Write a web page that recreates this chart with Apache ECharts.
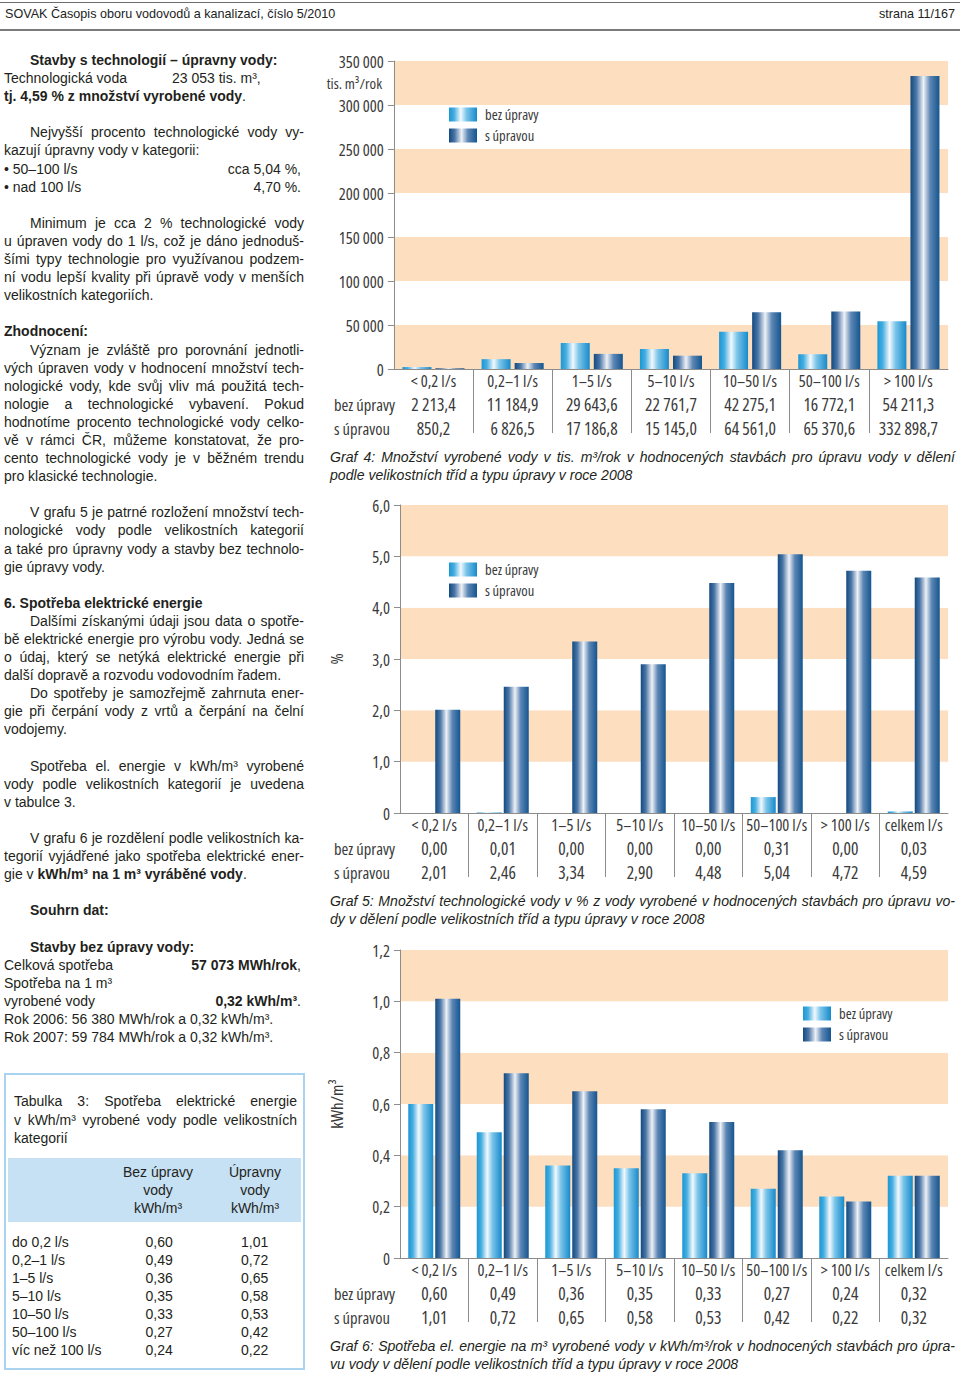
<!DOCTYPE html>
<html lang="cs">
<head>
<meta charset="utf-8">
<title>SOVAK 5/2010 – strana 11</title>
<script src="https://cdn.jsdelivr.net/npm/echarts@6/dist/echarts.min.js"></script>
<style>
  html, body { margin:0; padding:0; background:#fff; }
  body { width:960px; height:1377px; position:relative; overflow:hidden;
         font-family:"Liberation Sans", Arial, Helvetica, sans-serif; color:#231f20; }
  #hdr { position:absolute; left:0; top:0; width:960px; height:31px; }
  #hdr .t1 { position:absolute; left:0; top:2px; width:960px; border-top:1px solid #6d6d6d; }
  #hdr .t2 { position:absolute; left:0; top:29px; width:960px; border-top:2px solid #7a7a7a; }
  #hdr .l { position:absolute; left:5px; top:6px; font-size:12.6px; line-height:16px; color:#222; }
  #hdr .r { position:absolute; right:5px; top:6px; font-size:12.6px; line-height:16px; color:#222; }
  #left { position:absolute; left:4px; top:51px; width:300px; font-size:14px; }
  #left .ln { height:18.1px; line-height:18.1px; white-space:nowrap; }
  #left .j { text-align:justify; text-align-last:justify; }
  #left .in { padding-left:26px; }
  #left .sp { display:flex; justify-content:space-between; padding-right:3px; }
  #left .ab { position:relative; }
  #left .ab span.v { position:absolute; left:168px; }
  b { font-weight:bold; }
  #tab { position:absolute; left:4px; top:1073px; width:297px; height:293px; border:2px solid #a9d3ee; }
  #tab .cap { position:absolute; left:8px; top:17px; width:283px; font-size:14px; }
  #tab .cap div { height:18.5px; line-height:18.5px; white-space:nowrap; }
  #tab .cap .j { text-align:justify; text-align-last:justify; }
  #tab .band { position:absolute; left:2px; top:83px; width:293px; height:64px; background:#c6e0f4; }
  #tab .hc { position:absolute; top:88px; width:110px; font-size:14px; text-align:center; line-height:18px; }
  #tab table { position:absolute; left:6px; top:158px; border-collapse:collapse; font-size:14px; }
  #tab td { padding:0; height:18px; line-height:18px; white-space:nowrap; }
  .gcap { position:absolute; left:330px; width:625px; font-size:14.1px; font-style:italic; color:#231f20; }
  .gcap div { height:18px; line-height:18px; white-space:nowrap; }
  .gcap .j { text-align:justify; text-align-last:justify; }
  #chart { position:absolute; left:320px; top:40px; width:640px; height:1337px; }
</style>
</head>
<body>
<div id="hdr">
  <div class="t1"></div>
  <div class="l">SOVAK Časopis oboru vodovodů a kanalizací, číslo 5/2010</div>
  <div class="r">strana 11/167</div>
  <div class="t2"></div>
</div>

<div id="left">
  <div class="ln in"><b>Stavby s technologií – úpravny vody:</b></div>
  <div class="ln ab">Technologická voda<span class="v">23 053 tis. m³,</span></div>
  <div class="ln"><b>tj. 4,59 % z množství vyrobené vody</b>.</div>
  <div class="ln"></div>
  <div class="ln j in">Nejvyšší procento technologické vody vy-</div>
  <div class="ln">kazují úpravny vody v kategorii:</div>
  <div class="ln sp"><span>• 50–100 l/s</span><span>cca 5,04 %,</span></div>
  <div class="ln sp"><span>• nad 100 l/s</span><span>4,70 %.</span></div>
  <div class="ln"></div>
  <div class="ln j in">Minimum je cca 2 % technologické vody</div>
  <div class="ln j">u úpraven vody do 1 l/s, což je dáno jednoduš-</div>
  <div class="ln j">šími typy technologie pro využívanou podzem-</div>
  <div class="ln j">ní vodu lepší kvality při úpravě vody v menších</div>
  <div class="ln">velikostních kategoriích.</div>
  <div class="ln"></div>
  <div class="ln"><b>Zhodnocení:</b></div>
  <div class="ln j in">Význam je zvláště pro porovnání jednotli-</div>
  <div class="ln j">vých úpraven vody v hodnocení množství tech-</div>
  <div class="ln j">nologické vody, kde svůj vliv má použitá tech-</div>
  <div class="ln j">nologie a technologické vybavení. Pokud</div>
  <div class="ln j">hodnotíme procento technologické vody celko-</div>
  <div class="ln j">vě v rámci ČR, můžeme konstatovat, že pro-</div>
  <div class="ln j">cento technologické vody je v běžném trendu</div>
  <div class="ln">pro klasické technologie.</div>
  <div class="ln"></div>
  <div class="ln j in">V grafu 5 je patrné rozložení množství tech-</div>
  <div class="ln j">nologické vody podle velikostních kategorií</div>
  <div class="ln j">a také pro úpravny vody a stavby bez technolo-</div>
  <div class="ln">gie úpravy vody.</div>
  <div class="ln"></div>
  <div class="ln"><b>6. Spotřeba elektrické energie</b></div>
  <div class="ln j in">Dalšími získanými údaji jsou data o spotře-</div>
  <div class="ln j">bě elektrické energie pro výrobu vody. Jedná se</div>
  <div class="ln j">o údaj, který se netýká elektrické energie při</div>
  <div class="ln">další dopravě a rozvodu vodovodním řadem.</div>
  <div class="ln j in">Do spotřeby je samozřejmě zahrnuta ener-</div>
  <div class="ln j">gie při čerpání vody z vrtů a čerpání na čelní</div>
  <div class="ln">vodojemy.</div>
  <div class="ln"></div>
  <div class="ln j in">Spotřeba el. energie v kWh/m³ vyrobené</div>
  <div class="ln j">vody podle velikostních kategorií je uvedena</div>
  <div class="ln">v tabulce 3.</div>
  <div class="ln"></div>
  <div class="ln j in">V grafu 6 je rozdělení podle velikostních ka-</div>
  <div class="ln j">tegorií vyjádřené jako spotřeba elektrické ener-</div>
  <div class="ln">gie v <b>kWh/m³ na 1 m³ vyráběné vody</b>.</div>
  <div class="ln"></div>
  <div class="ln in"><b>Souhrn dat:</b></div>
  <div class="ln"></div>
  <div class="ln in"><b>Stavby bez úpravy vody:</b></div>
  <div class="ln sp"><span>Celková spotřeba</span><span><b>57 073 MWh/rok</b>,</span></div>
  <div class="ln">Spotřeba na 1 m³</div>
  <div class="ln sp"><span>vyrobené vody</span><span><b>0,32 kWh/m³</b>.</span></div>
  <div class="ln">Rok 2006: 56 380 MWh/rok a 0,32 kWh/m³.</div>
  <div class="ln">Rok 2007: 59 784 MWh/rok a 0,32 kWh/m³.</div>
</div>

<div id="tab">
  <div class="cap">
    <div class="j">Tabulka 3: Spotřeba elektrické energie</div>
    <div class="j">v kWh/m³ vyrobené vody podle velikostních</div>
    <div>kategorií</div>
  </div>
  <div class="band"></div>
  <div class="hc" style="left:97px">Bez úpravy<br>vody<br>kWh/m³</div>
  <div class="hc" style="left:194px">Úpravny<br>vody<br>kWh/m³</div>
  <table id="t3"></table>
</div>

<div class="gcap" style="top:448px">
  <div class="j">Graf 4: Množství vyrobené vody v tis. m³/rok v hodnocených stavbách pro úpravu vody v dělení</div>
  <div>podle velikostních tříd a typu úpravy v roce 2008</div>
</div>
<div class="gcap" style="top:892px">
  <div class="j">Graf 5: Množství technologické vody v % z vody vyrobené v hodnocených stavbách pro úpravu vo-</div>
  <div>dy v dělení podle velikostních tříd a typu úpravy v roce 2008</div>
</div>
<div class="gcap" style="top:1337px">
  <div class="j">Graf 6: Spotřeba el. energie na m³ vyrobené vody v kWh/m³/rok v hodnocených stavbách pro úpra-</div>
  <div>vu vody v dělení podle velikostních tříd a typu úpravy v roce 2008</div>
</div>

<div id="chart"></div>

<script>
// ---------------- DATA ----------------
const SERIES_NAMES = ['bez úpravy', 's úpravou'];
const CATS_G4 = ['< 0,2 l/s', '0,2–1 l/s', '1–5 l/s', '5–10 l/s', '10–50 l/s', '50–100 l/s', '> 100 l/s'];
const CATS_G56 = ['< 0,2 l/s', '0,2–1 l/s', '1–5 l/s', '5–10 l/s', '10–50 l/s', '50–100 l/s', '> 100 l/s', 'celkem l/s'];

// Graf 4 – tis. m3/rok
const G4_BEZ = [2213.4, 11184.9, 29643.6, 22761.7, 42275.1, 16772.1, 54211.3];
const G4_S   = [850.2, 6826.5, 17186.8, 15145.0, 64561.0, 65370.6, 332898.7];
// Graf 5 – %
const G5_BEZ = [0.00, 0.01, 0.00, 0.00, 0.00, 0.31, 0.00, 0.03];
const G5_S   = [2.01, 2.46, 3.34, 2.90, 4.48, 5.04, 4.72, 4.59];
// Graf 6 – kWh/m3
const G6_BEZ = [0.60, 0.49, 0.36, 0.35, 0.33, 0.27, 0.24, 0.32];
const G6_S   = [1.01, 0.72, 0.65, 0.58, 0.53, 0.42, 0.22, 0.32];

// Tabulka 3
const T3_LABELS = ['do 0,2 l/s', '0,2–1 l/s', '1–5 l/s', '5–10 l/s', '10–50 l/s', '50–100 l/s', 'víc než 100 l/s'];
const T3_BEZ = [0.60, 0.49, 0.36, 0.35, 0.33, 0.27, 0.24];
const T3_UPR = [1.01, 0.72, 0.65, 0.58, 0.53, 0.42, 0.22];

// ---------------- helpers ----------------
function fmtCz(v, dec) {
  const s = Number(v).toFixed(dec);
  const parts = s.split('.');
  const ip = parts[0].replace(/\B(?=(\d{3})+(?!\d))/g, ' ');
  return parts.length > 1 ? ip + ',' + parts[1] : ip;
}
function measure(str, px, fam, stretch) {
  const s = document.createElement('span');
  s.style.cssText = 'position:absolute;left:0;top:0;visibility:hidden;white-space:nowrap;' +
    'font-size:' + px + 'px;font-family:' + fam + ';font-stretch:' + stretch + ';';
  s.textContent = str;
  document.body.appendChild(s);
  const w = s.getBoundingClientRect().width;
  s.remove();
  return w;
}

// table 3
(function () {
  const t = document.getElementById('t3');
  let html = '';
  for (let i = 0; i < T3_LABELS.length; i++) {
    html += '<tr><td style="width:100px">' + T3_LABELS[i] + '</td>' +
            '<td style="width:96px;text-align:center">' + fmtCz(T3_BEZ[i], 2) + '</td>' +
            '<td style="width:98px;text-align:center">' + fmtCz(T3_UPR[i], 2) + '</td></tr>';
  }
  t.innerHTML = html;
})();

// ---------------- condensed chart font ----------------
const PROBE = 'bez úpravy 332 898,7';
const STRETCH_OK = measure(PROBE, 100, '"Open Sans"', '75%') < 0.92 * measure(PROBE, 100, '"Open Sans"', '100%');
const FAM = STRETCH_OK ? '"Open Sans"' : 'Roboto, "Liberation Sans", sans-serif';
const STR = STRETCH_OK ? '75%' : '100%';
if (STRETCH_OK) {
  const st = document.createElement('style');
  st.textContent = '#chart text, #chart tspan { font-stretch: 75% !important; }';
  document.head.appendChild(st);
}
function fit(str, targetW, cap) {
  const w = measure(str, 100, FAM, STR);
  return Math.min(cap, Math.round(1000 * targetW / w) / 10);
}
const FS_Y = fit('350 000', 50, 16.5);
const FS_CAT = fit('10–50 l/s', 54, 16.5);
const FS_VAL = fit('332 898,7', 70, 17.5);
const FS_ROW = fit('bez úpravy', 63, 16.5);
const FS_LEG = 14.5;
const FS_NAME = fit('kWh/m³', 50, 17);
const FS_UNIT = fit('tis. m³/rok', 60, 15);

// ---------------- chart ----------------
const OX = 320, OY = 40;                  // offset of the chart box on the page
const TXT = '#3a3a3a';
const AXC = '#8c8c8c';
const PEACH = '#fddebf';

const LIGHT = { type: 'linear', x: 0, y: 0, x2: 1, y2: 0, colorStops: [
  { offset: 0, color: '#1b97d5' }, { offset: 0.18, color: '#45ade0' },
  { offset: 0.42, color: '#f2f9fd' }, { offset: 0.62, color: '#7cc5e9' },
  { offset: 1, color: '#168acb' } ] };
const DARK = { type: 'linear', x: 0, y: 0, x2: 1, y2: 0, colorStops: [
  { offset: 0, color: '#124a80' }, { offset: 0.2, color: '#4a75a6' },
  { offset: 0.45, color: '#eef1f6' }, { offset: 0.68, color: '#5c86b4' },
  { offset: 1, color: '#14558f' } ] };

const CHARTS = [
  { top: 61, bottom: 369, cats: CATS_G4, bez: G4_BEZ, s: G4_S, dec: 1, max: 350000, interval: 50000,
    yFmt: v => v === 0 ? '0' : fmtCz(v, 0), bands: [PEACH, '#ffffff'], barWidth: 29, barGap: '14%',
    legend: [449, 107], yName: null },
  { top: 505, bottom: 813, cats: CATS_G56, bez: G5_BEZ, s: G5_S, dec: 2, max: 6, interval: 1,
    yFmt: v => v === 0 ? '0' : fmtCz(v, 1), bands: ['#ffffff', PEACH], barWidth: 25, barGap: '8%',
    legend: [449, 562], yName: '%' },
  { top: 950, bottom: 1258, cats: CATS_G56, bez: G6_BEZ, s: G6_S, dec: 2, max: 1.2, interval: 0.2,
    yFmt: v => v === 0 ? '0' : fmtCz(v, 1), bands: ['#ffffff', PEACH], barWidth: 25, barGap: '8%',
    legend: [803, 1006], yName: 'kWh/m³' }
];

const GRID_LEFT = 392, GRID_RIGHT = 948;
const ROW_A = 35, ROW_B = 59;             // table rows below the x axis
const option = {
  animation: false,
  textStyle: { fontFamily: FAM, color: TXT },
  grid: [], xAxis: [], yAxis: [], series: [], legend: [], graphic: []
};

CHARTS.forEach((c, i) => {
  option.grid.push({ left: GRID_LEFT - OX, width: GRID_RIGHT - GRID_LEFT,
                     top: c.top - OY, height: c.bottom - c.top });
  // main category axis with the data table under it
  option.xAxis.push({
    type: 'category', gridIndex: i, data: c.cats, position: 'bottom',
    axisLine: { show: true, lineStyle: { color: AXC, width: 1 } },
    axisTick: { show: false },
    splitLine: { show: false },
    axisLabel: {
      interval: 0, margin: 0, hideOverlap: false,
      formatter: (val, idx) => '{c|' + val + '}\n{a|' + fmtCz(c.bez[idx], c.dec) + '}\n{b|' + fmtCz(c.s[idx], c.dec) + '}',
      rich: {
        c: { fontSize: FS_CAT, lineHeight: 23, color: TXT, fontFamily: FAM },
        a: { fontSize: FS_VAL, lineHeight: 24, color: TXT, fontFamily: FAM },
        b: { fontSize: FS_VAL, lineHeight: 24, color: TXT, fontFamily: FAM }
      }
    }
  });
  // helper axis: ticks on the category boundaries draw the table separators
  const bounds = [''].concat(c.cats);
  option.xAxis.push({
    type: 'category', gridIndex: i, data: bounds, boundaryGap: false, position: 'bottom', offset: 0,
    axisLine: { show: false }, axisLabel: { show: false }, splitLine: { show: false },
    axisTick: { show: true, length: 64, interval: (idx) => idx > 0 && idx < c.cats.length,
                lineStyle: { color: AXC, width: 1 } }
  });
  option.yAxis.push({
    type: 'value', gridIndex: i, min: 0, max: c.max, interval: c.interval,
    axisLine: { show: true, lineStyle: { color: AXC, width: 1 } },
    axisTick: { show: true, length: 6, lineStyle: { color: AXC } },
    axisLabel: { margin: 10, fontSize: FS_Y, color: TXT, fontFamily: FAM, formatter: c.yFmt },
    splitLine: { show: false },
    splitArea: { show: true, areaStyle: { color: c.bands } },
    name: c.yName || '', nameLocation: 'middle', nameRotate: 90, nameGap: 55,
    nameTextStyle: { fontSize: FS_NAME, color: TXT, fontFamily: FAM }
  });
  option.series.push({
    type: 'bar', name: SERIES_NAMES[0], xAxisIndex: 2 * i, yAxisIndex: i, data: c.bez,
    barWidth: c.barWidth, barGap: c.barGap, itemStyle: { color: LIGHT }, silent: true
  });
  option.series.push({
    type: 'bar', name: SERIES_NAMES[1], xAxisIndex: 2 * i, yAxisIndex: i, data: c.s,
    barWidth: c.barWidth, barGap: c.barGap, itemStyle: { color: DARK }, silent: true
  });
  option.legend.push({
    orient: 'vertical', left: c.legend[0] - OX, top: c.legend[1] - OY, padding: 0,
    itemWidth: 28, itemHeight: 14, itemGap: 6, icon: 'rect', selectedMode: false,
    data: SERIES_NAMES,
    textStyle: { fontSize: FS_LEG, lineHeight: 14, color: TXT, fontFamily: FAM, padding: [0, 0, 0, 3] }
  });
  // row labels of the data table
  option.graphic.push({ type: 'text', silent: true,
    style: { text: SERIES_NAMES[0], x: 334 - OX, y: c.bottom + ROW_A - OY, fill: TXT,
             font: FS_ROW + 'px ' + FAM, verticalAlign: 'middle', align: 'left' } });
  option.graphic.push({ type: 'text', silent: true,
    style: { text: SERIES_NAMES[1], x: 334 - OX, y: c.bottom + ROW_B - OY, fill: TXT,
             font: FS_ROW + 'px ' + FAM, verticalAlign: 'middle', align: 'left' } });
});

// unit of Graf 4 (under the top tick label)
option.graphic.push({ type: 'text', silent: true,
  style: { text: 'tis. m³/rok', x: GRID_LEFT - 10 - OX, y: 83 - OY, fill: TXT,
           font: FS_UNIT + 'px ' + FAM, verticalAlign: 'middle', align: 'right' } });

const chart = echarts.init(document.getElementById('chart'), null, { renderer: 'svg' });
chart.setOption(option);
</script>
</body>
</html>
